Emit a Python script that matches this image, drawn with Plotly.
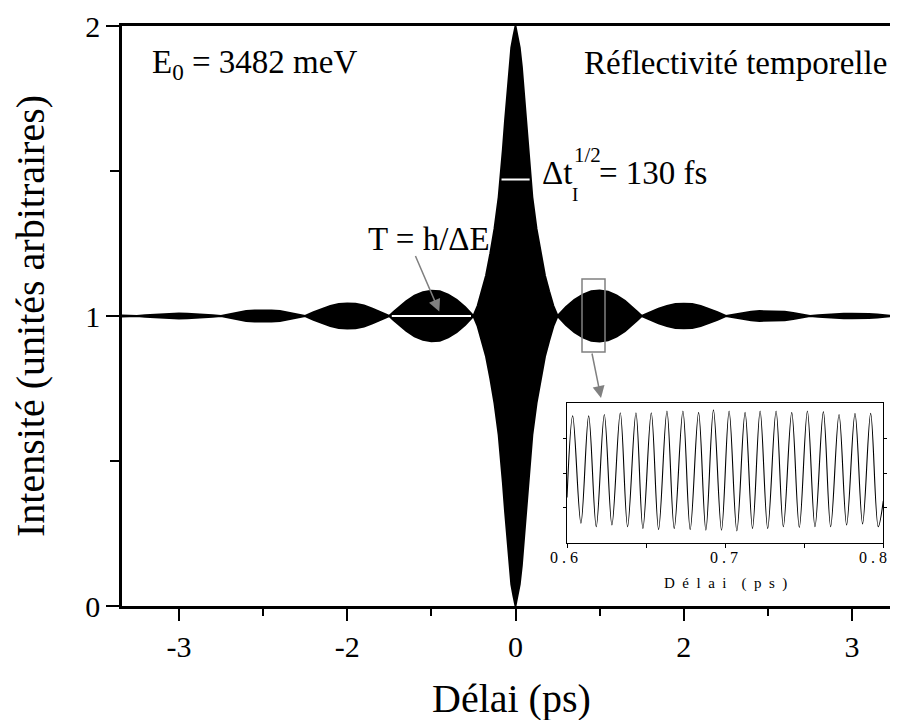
import plotly.graph_objects as go

# ---------------- data ----------------
# envelope of the fast oscillation, |delay| grid (axis units) and amplitude left / right of 0
t_half = [0.0, 0.01, 0.025, 0.05, 0.075, 0.1, 0.125, 0.15, 0.175, 0.2, 0.25, 0.3, 0.35, 0.4, 0.45, 0.5,
          0.55, 0.6, 0.7, 0.8, 0.9, 1.0, 1.1, 1.2, 1.3, 1.4, 1.45, 1.5,
          1.6, 1.7, 1.8, 1.9, 2.0, 2.1, 2.2, 2.3, 2.4, 2.5,
          2.6, 2.7, 2.8, 2.9, 3.0, 3.1, 3.2, 3.3, 3.4, 3.5,
          3.6, 3.7, 3.8, 3.9, 4.0, 4.1, 4.2, 4.3, 4.4, 4.5, 4.6, 4.7]
amp_left = [1.0, 0.985, 0.965, 0.925, 0.86, 0.765, 0.67, 0.575, 0.485, 0.41, 0.30, 0.215, 0.14, 0.085, 0.035, 0.0,
            0.016, 0.031, 0.056, 0.074, 0.085, 0.087, 0.082, 0.070, 0.051, 0.027, 0.014, 0.0,
            0.013, 0.025, 0.036, 0.042, 0.043, 0.041, 0.035, 0.025, 0.013, 0.0,
            0.006, 0.012, 0.017, 0.019, 0.020, 0.019, 0.017, 0.012, 0.006, 0.0,
            0.003, 0.005, 0.007, 0.008, 0.009, 0.008, 0.007, 0.005, 0.003, 0.0, 0.002, 0.002]
amp_right = [1.0, 0.985, 0.965, 0.925, 0.86, 0.765, 0.67, 0.575, 0.485, 0.41, 0.30, 0.215, 0.14, 0.085, 0.035, 0.0,
             0.016, 0.031, 0.056, 0.074, 0.085, 0.088, 0.084, 0.071, 0.052, 0.028, 0.014, 0.0,
             0.013, 0.025, 0.035, 0.041, 0.042, 0.041, 0.035, 0.025, 0.013, 0.0,
             0.005, 0.010, 0.015, 0.017, 0.017, 0.017, 0.015, 0.010, 0.005, 0.0,
             0.003, 0.005, 0.007, 0.008, 0.008, 0.008, 0.007, 0.005, 0.003, 0.0, 0.002, 0.002]

# main x-axis ticks as printed on the figure
x_tickvals = [-4, -2, 0, 2, 4]
x_ticktext = ["-3", "-2", "0", "2", "3"]
y_tickvals = [0, 1, 2]
y_ticktext = ["0", "1", "2"]

# inset: extrema of the oscillation between 0.6 and 0.8 ps (alternating trough/peak)
inset_t = [0.6, 0.6036, 0.6088, 0.6137, 0.6185, 0.6236, 0.6284, 0.6337, 0.6383, 0.6436, 0.6480,
           0.6533, 0.6579, 0.6632, 0.6678, 0.6733, 0.6779, 0.6832, 0.6878, 0.6926, 0.6977,
           0.7025, 0.7074, 0.7126, 0.7173, 0.7221, 0.7269, 0.7322, 0.7368, 0.7421, 0.7469,
           0.7520, 0.7568, 0.7621, 0.7667, 0.7720, 0.7768, 0.7821, 0.7869, 0.7920, 0.7968, 0.8]
inset_v = [1.3, 3.64, 0.56, 3.64, 0.46, 3.68, 0.51, 3.73, 0.46, 3.73, 0.41,
           3.73, 0.38, 3.78, 0.41, 3.78, 0.38, 3.74, 0.36, 3.81, 0.36,
           3.78, 0.34, 3.74, 0.41, 3.78, 0.41, 3.78, 0.46, 3.74, 0.44,
           3.78, 0.46, 3.76, 0.46, 3.68, 0.51, 3.71, 0.54, 3.71, 0.46, 1.2]
inset_xticks = [0.6, 0.65, 0.7, 0.75, 0.8]
inset_xlabels = ["0\u2005.\u20056", "0\u2005.\u20057", "0\u2005.\u20058"]

# ---------------- build traces ----------------
t_full = [-v for v in reversed(t_half[1:])] + t_half
a_full = list(reversed(amp_left[1:])) + amp_right
upper = [1 + a for a in a_full]
lower = [1 - a for a in a_full]

FONT = "Liberation Serif"

fig = go.Figure()
fig.add_trace(go.Scatter(x=t_full, y=upper, mode="lines", line=dict(color="black", width=2),
                         hoverinfo="skip", showlegend=False))
fig.add_trace(go.Scatter(x=t_full, y=lower, mode="lines", line=dict(color="black", width=2),
                         fill="tonexty", fillcolor="black", hoverinfo="skip", showlegend=False))
fig.add_trace(go.Scatter(x=inset_t, y=inset_v, mode="lines",
                         line=dict(color="black", width=1.1, shape="spline", smoothing=1.0),
                         xaxis="x2", yaxis="y2", hoverinfo="skip", showlegend=False))

# geometry helpers (reference pixel -> paper); plot area in reference: x 122..897, y 26..606
OFF = 8  # page body margin
L, R, T, B = 122, 897, 26, 606
W, H = 898 - OFF, 720 - OFF
def px(x):
    return (x - L) / (R - L)
def py(y):
    return (B - y) / (B - T)

X0 = 515.5
SX = 84.15
SY = 290.0
def dx(x):
    return (x - X0) / SX
def dy(y):
    return (B - y) / SY

GRAY = "#808080"

shapes = [
    dict(type="line", xref="x", yref="y", x0=dx(501.5), x1=dx(529.6), y0=dy(179.5), y1=dy(179.5),
         line=dict(color="white", width=2)),
    dict(type="line", xref="x", yref="y", x0=dx(391.8), x1=dx(471.0), y0=1, y1=1,
         line=dict(color="white", width=2)),
    dict(type="rect", xref="x", yref="y", x0=dx(582), x1=dx(605), y0=dy(352), y1=dy(279),
         line=dict(color=GRAY, width=1.5)),
]

def ann(text, x, y, size, xanchor="left", yanchor="middle", **kw):
    return dict(text=text, x=px(x), y=py(y), xref="paper", yref="paper", showarrow=False,
                xanchor=xanchor, yanchor=yanchor, font=dict(family=FONT, size=size, color="black"), **kw)

annotations = [
    ann("E<sub>0</sub> = 3482 meV", 150, 64, 33),
    ann("Réflectivité temporelle", 889, 63, 33, xanchor="right"),
    ann("\u0394t", 540, 173, 33),
    ann("I", 575, 194, 19, xanchor="center"),
    ann("1/2", 572, 155, 21),
    ann("= 130 fs", 597, 173, 33),
    ann("T = h/\u0394E", 366, 239, 33),
    ann("Intensité (unités arbitraires)", 30, 316, 40, xanchor="center", textangle=-90),
    ann("Délai (ps)", 512, 698, 40, xanchor="center"),
    ann("D\u2002é\u2002l\u2002a\u2002i\u2002\u2002(\u2002p\u2002s\u2002)", 725, 583, 15, xanchor="center"),
    # inset tick labels (letter-spaced as in the original)
    ann(inset_xlabels[0], 564, 557, 16, xanchor="center"),
    ann(inset_xlabels[1], 724, 557, 16, xanchor="center"),
    ann(inset_xlabels[2], 889, 557, 16, xanchor="right"),
    # arrows
    dict(x=dx(439.3), y=dy(311.5), xref="x", yref="y", ax=-24.5, ay=-57, showarrow=True,
         arrowhead=2, arrowsize=1.6, arrowwidth=1.5, arrowcolor=GRAY, text=""),
    dict(x=dx(601), y=dy(398), xref="x", yref="y", ax=-9.3, ay=-46, showarrow=True,
         arrowhead=2, arrowsize=1.6, arrowwidth=1.5, arrowcolor=GRAY, text=""),
]

fig.update_layout(
    width=W, height=H,
    margin=dict(l=L - OFF, r=W - (R - OFF), t=T - OFF, b=H - (B - OFF), pad=0, autoexpand=False),
    paper_bgcolor="white", plot_bgcolor="white",
    font=dict(family=FONT, color="black"),
    shapes=shapes, annotations=annotations,
    xaxis=dict(range=[dx(L), dx(R)], tickvals=x_tickvals, ticktext=x_ticktext, automargin=False,
               ticks="outside", ticklen=12, tickwidth=2, tickcolor="black",
               minor=dict(tickvals=[-3, -1, 1, 3], ticks="outside", ticklen=7, tickwidth=2, tickcolor="black"),
               showline=True, linecolor="black", linewidth=2.5, mirror=True,
               showgrid=False, zeroline=False, tickfont=dict(family=FONT, size=30)),
    yaxis=dict(range=[0, 2], tickvals=y_tickvals, ticktext=y_ticktext, automargin=False,
               ticks="outside", ticklen=13, tickwidth=2, tickcolor="black",
               minor=dict(tickvals=[0.5, 1.5], ticks="outside", ticklen=9, tickwidth=2, tickcolor="black"),
               showline=True, linecolor="black", linewidth=2.5, mirror=False,
               showgrid=False, zeroline=False, tickfont=dict(family=FONT, size=30)),
    xaxis2=dict(domain=[px(567), px(883.3)], anchor="y2", range=[0.6, 0.8], automargin=False,
                tickvals=inset_xticks, showticklabels=False,
                ticks="outside", ticklen=4, tickwidth=1, tickcolor="black",
                showline=True, linecolor="black", linewidth=1, mirror=True,
                showgrid=False, zeroline=False),
    yaxis2=dict(domain=[py(542.7), py(403.3)], anchor="x2", range=[0, 4], automargin=False,
                tickvals=[1, 2, 3], showticklabels=False,
                ticks="outside", ticklen=3, tickwidth=1, tickcolor="black",
                showline=True, linecolor="black", linewidth=1, mirror="ticks",
                showgrid=False, zeroline=False),
)
try:
    fig.update_xaxes(ticklabelstandoff=-4, selector=dict(anchor="y"))
except Exception:
    pass

fig.write_html("out.html")
